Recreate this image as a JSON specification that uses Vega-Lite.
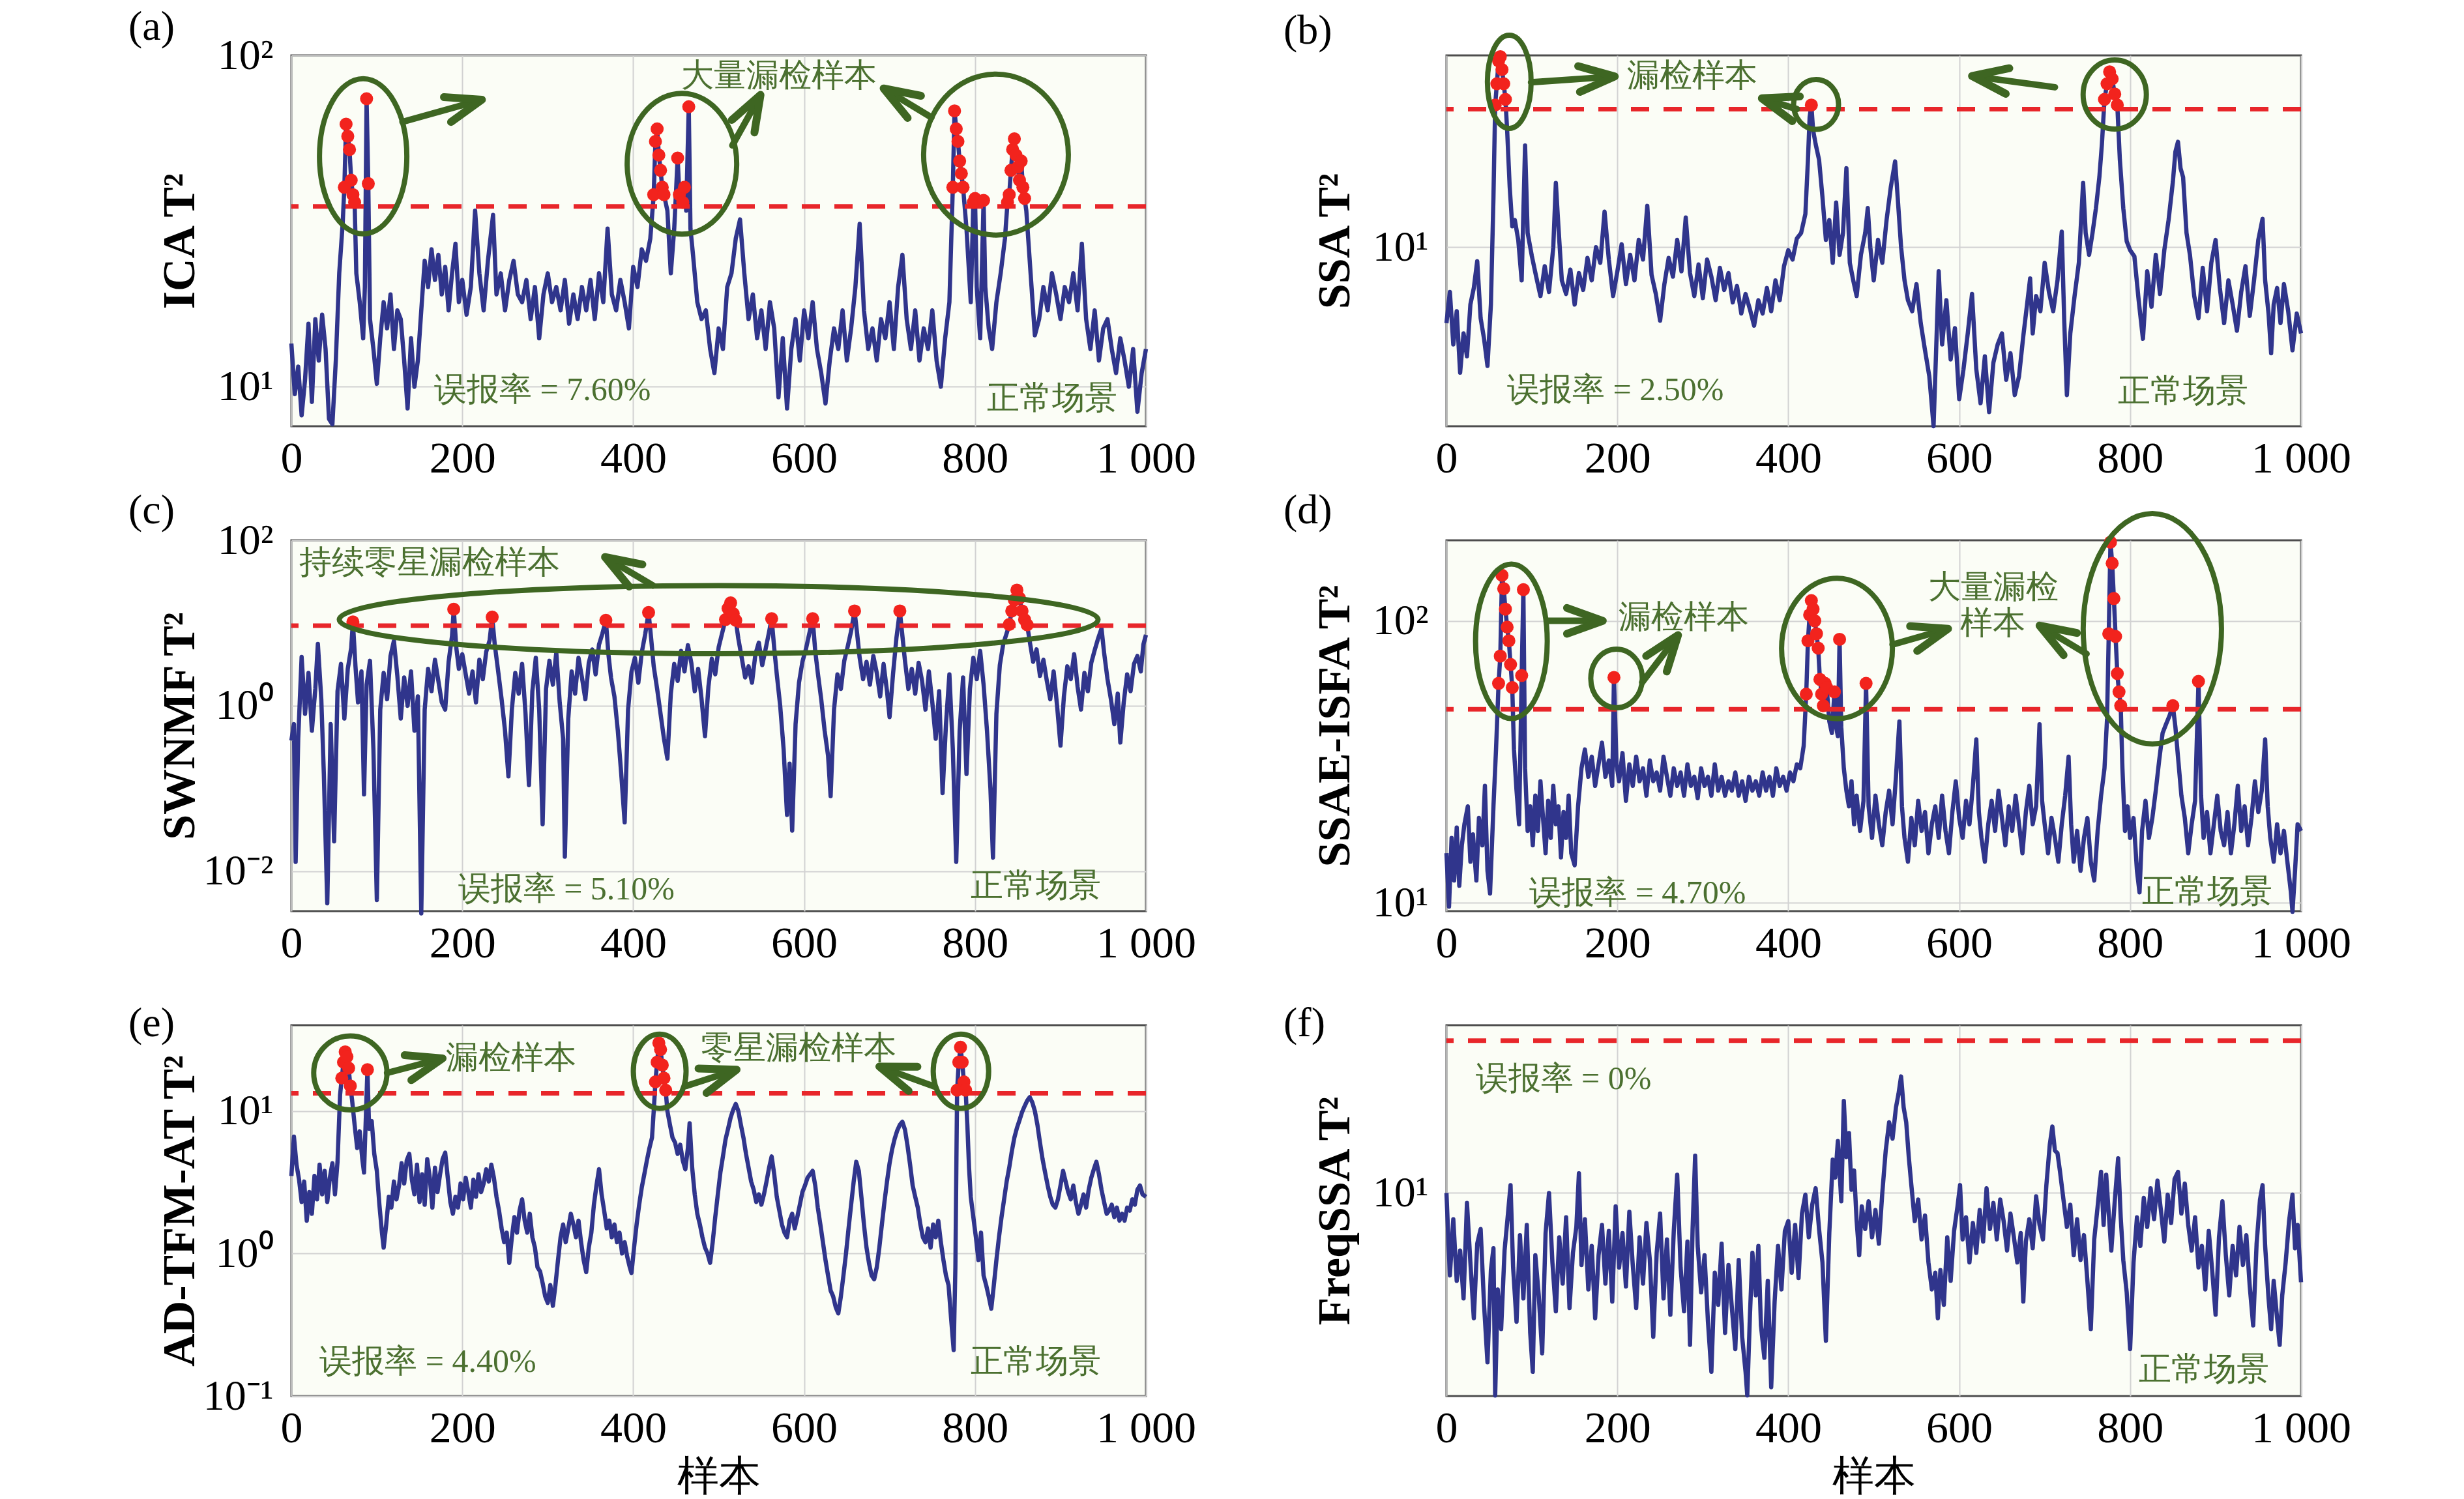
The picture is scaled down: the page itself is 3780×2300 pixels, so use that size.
{
"$schema":"https://vega.github.io/schema/vega-lite/v6.json",
"background":"white",
"padding":{"left":195,"top":8,"right":10,"bottom":0},
"autosize":{"type":"pad"},
"config":{
 "font":"Liberation Serif",
 "view":{"stroke":"#4d4d4d","strokeWidth":3,"fill":"#fbfdf6"},
 "axis":{"domain":false,"ticks":false,"labelFlush":false,"labelOverlap":false,"labelFont":"Liberation Serif","labelFontSize":68,"labelColor":"#000","titleFont":"Liberation Serif","titleFontSize":70,"titleFontWeight":"bold","titleColor":"#000","grid":true,"gridColor":"#d2d2d2","gridWidth":2,"gridOpacity":1},
 "axisX":{"labelPadding":16,"titlePadding":8,"titleFontWeight":"normal","titleFontSize":64},
 "axisY":{"labelPadding":28,"labelFontSize":66,"titlePadding":30,"minExtent":105,"maxExtent":105},
 "title":{"anchor":"start","frame":"group","dx":-250,"offset":7,"fontSize":64,"fontWeight":"normal","font":"Liberation Serif","color":"#000"}
},
"datasets":{
"a":[{"x":0,"y":13.5},{"x":4,"y":9.5},{"x":8,"y":11.5},{"x":12,"y":8.2},{"x":16,"y":10.5},{"x":20,"y":15.5},{"x":24,"y":9},{"x":28,"y":16},{"x":32,"y":12},{"x":36,"y":16.5},{"x":40,"y":13},{"x":44,"y":8},{"x":48,"y":7.7},{"x":52,"y":12},{"x":56,"y":22},{"x":60,"y":31},{"x":62,"y":40},{"x":64,"y":62},{"x":66,"y":57},{"x":68,"y":52},{"x":70,"y":42},{"x":72,"y":38},{"x":74,"y":36},{"x":76,"y":22},{"x":80,"y":18},{"x":84,"y":14},{"x":86,"y":20},{"x":88,"y":74},{"x":90,"y":41},{"x":92,"y":16},{"x":96,"y":13},{"x":100,"y":10.2},{"x":104,"y":14},{"x":108,"y":18},{"x":112,"y":15},{"x":116,"y":19},{"x":120,"y":13},{"x":124,"y":17},{"x":128,"y":16},{"x":132,"y":12},{"x":136,"y":8.6},{"x":140,"y":14},{"x":144,"y":10},{"x":148,"y":12},{"x":152,"y":17},{"x":156,"y":24},{"x":160,"y":20},{"x":164,"y":26},{"x":168,"y":21},{"x":172,"y":25},{"x":176,"y":19},{"x":180,"y":23},{"x":184,"y":17},{"x":188,"y":22},{"x":192,"y":27},{"x":196,"y":18},{"x":200,"y":21},{"x":205,"y":16.5},{"x":210,"y":20},{"x":215,"y":34},{"x":220,"y":22},{"x":225,"y":17},{"x":230,"y":24},{"x":236,"y":33},{"x":240,"y":19},{"x":245,"y":22},{"x":250,"y":17},{"x":255,"y":21},{"x":260,"y":24},{"x":265,"y":19},{"x":270,"y":18},{"x":275,"y":21},{"x":280,"y":16},{"x":285,"y":20},{"x":290,"y":14},{"x":295,"y":19},{"x":300,"y":22},{"x":305,"y":18},{"x":310,"y":20},{"x":315,"y":17},{"x":320,"y":21},{"x":325,"y":15.5},{"x":330,"y":19},{"x":335,"y":16},{"x":340,"y":20},{"x":345,"y":17},{"x":350,"y":21},{"x":355,"y":16},{"x":360,"y":22},{"x":365,"y":18},{"x":370,"y":30},{"x":375,"y":19},{"x":380,"y":17},{"x":385,"y":21},{"x":390,"y":18},{"x":395,"y":15},{"x":400,"y":23},{"x":405,"y":20},{"x":410,"y":26},{"x":415,"y":24},{"x":420,"y":28},{"x":424,"y":38},{"x":426,"y":55},{"x":428,"y":60},{"x":430,"y":50},{"x":432,"y":45},{"x":434,"y":40},{"x":436,"y":38},{"x":440,"y":34},{"x":444,"y":22},{"x":448,"y":30},{"x":452,"y":49},{"x":454,"y":38},{"x":456,"y":35},{"x":458,"y":36},{"x":460,"y":40},{"x":462,"y":34},{"x":465,"y":70},{"x":467,"y":30},{"x":470,"y":25},{"x":475,"y":18},{"x":480,"y":16},{"x":485,"y":17},{"x":490,"y":13},{"x":495,"y":11},{"x":500,"y":15},{"x":505,"y":13},{"x":510,"y":20},{"x":515,"y":22},{"x":520,"y":28},{"x":525,"y":32},{"x":530,"y":22},{"x":535,"y":16},{"x":540,"y":19},{"x":545,"y":14},{"x":550,"y":17},{"x":555,"y":13},{"x":560,"y":18},{"x":565,"y":15},{"x":570,"y":9.3},{"x":575,"y":14},{"x":580,"y":8.6},{"x":585,"y":13},{"x":590,"y":16},{"x":595,"y":12},{"x":600,"y":17},{"x":605,"y":14},{"x":610,"y":18},{"x":615,"y":13},{"x":620,"y":11},{"x":625,"y":8.9},{"x":630,"y":12},{"x":635,"y":15},{"x":640,"y":13},{"x":645,"y":17},{"x":650,"y":12},{"x":655,"y":15},{"x":660,"y":20},{"x":665,"y":31},{"x":670,"y":17},{"x":675,"y":13},{"x":680,"y":15},{"x":685,"y":12},{"x":690,"y":16},{"x":695,"y":14},{"x":700,"y":18},{"x":705,"y":13},{"x":710,"y":20},{"x":715,"y":25},{"x":720,"y":16},{"x":725,"y":13},{"x":730,"y":17},{"x":735,"y":12},{"x":740,"y":15},{"x":745,"y":13},{"x":750,"y":17},{"x":755,"y":12},{"x":760,"y":10},{"x":765,"y":14},{"x":770,"y":18},{"x":774,"y":40},{"x":776,"y":68},{"x":778,"y":60},{"x":780,"y":55},{"x":782,"y":48},{"x":784,"y":44},{"x":786,"y":40},{"x":790,"y":30},{"x":795,"y":18},{"x":798,"y":36},{"x":800,"y":37},{"x":802,"y":20},{"x":806,"y":14},{"x":810,"y":36.5},{"x":812,"y":20},{"x":816,"y":15},{"x":820,"y":13},{"x":825,"y":18},{"x":830,"y":22},{"x":835,"y":28},{"x":838,"y":36},{"x":840,"y":38},{"x":842,"y":45},{"x":844,"y":52},{"x":846,"y":56},{"x":848,"y":50},{"x":850,"y":46},{"x":852,"y":42},{"x":854,"y":48},{"x":856,"y":40},{"x":858,"y":37},{"x":860,"y":34},{"x":865,"y":22},{"x":870,"y":14.3},{"x":875,"y":16},{"x":880,"y":20},{"x":885,"y":17},{"x":890,"y":22},{"x":895,"y":19},{"x":900,"y":16},{"x":905,"y":20},{"x":910,"y":18},{"x":915,"y":22},{"x":920,"y":17},{"x":925,"y":27},{"x":930,"y":16},{"x":935,"y":13},{"x":940,"y":17},{"x":945,"y":12},{"x":950,"y":15},{"x":955,"y":16},{"x":960,"y":13},{"x":965,"y":11},{"x":970,"y":14},{"x":975,"y":12},{"x":980,"y":10},{"x":985,"y":13},{"x":990,"y":8.4},{"x":995,"y":11},{"x":1000,"y":13}],
"b":[{"x":0,"y":6.0},{"x":4,"y":7.4},{"x":8,"y":5.2},{"x":12,"y":6.5},{"x":16,"y":4.3},{"x":20,"y":5.6},{"x":24,"y":4.8},{"x":28,"y":6.8},{"x":32,"y":7.6},{"x":36,"y":9.1},{"x":40,"y":6.2},{"x":44,"y":5.4},{"x":48,"y":4.5},{"x":52,"y":6.8},{"x":55,"y":14},{"x":57,"y":26},{"x":59,"y":30},{"x":61,"y":35},{"x":63,"y":36},{"x":65,"y":33},{"x":67,"y":30},{"x":69,"y":27},{"x":71,"y":22},{"x":74,"y":15},{"x":77,"y":11.5},{"x":80,"y":12},{"x":84,"y":10.5},{"x":88,"y":8},{"x":92,"y":19.8},{"x":95,"y":11},{"x":100,"y":9.4},{"x":105,"y":8.2},{"x":110,"y":7.2},{"x":115,"y":8.8},{"x":120,"y":7.4},{"x":125,"y":10},{"x":128,"y":15.4},{"x":131,"y":11.5},{"x":135,"y":8},{"x":140,"y":7.3},{"x":145,"y":8.6},{"x":150,"y":6.8},{"x":155,"y":8.4},{"x":160,"y":7.5},{"x":165,"y":9.3},{"x":170,"y":8},{"x":175,"y":10},{"x":180,"y":9},{"x":185,"y":12.7},{"x":190,"y":9.2},{"x":195,"y":7.2},{"x":200,"y":8.5},{"x":205,"y":10.2},{"x":210,"y":7.8},{"x":215,"y":9.5},{"x":220,"y":8},{"x":225,"y":10.5},{"x":230,"y":9.2},{"x":235,"y":13.2},{"x":240,"y":8.3},{"x":245,"y":7.3},{"x":250,"y":6.1},{"x":255,"y":7.8},{"x":260,"y":9.3},{"x":265,"y":8.2},{"x":270,"y":10.5},{"x":275,"y":8.5},{"x":280,"y":12.2},{"x":285,"y":8.4},{"x":290,"y":7.2},{"x":295,"y":8.9},{"x":300,"y":7.1},{"x":305,"y":9.2},{"x":310,"y":8.2},{"x":315,"y":7},{"x":320,"y":8.7},{"x":325,"y":7.5},{"x":330,"y":8.4},{"x":335,"y":6.9},{"x":340,"y":7.7},{"x":345,"y":6.4},{"x":350,"y":7.3},{"x":355,"y":6.6},{"x":360,"y":5.9},{"x":365,"y":7},{"x":370,"y":6.4},{"x":375,"y":7.6},{"x":380,"y":6.5},{"x":385,"y":8},{"x":390,"y":7},{"x":395,"y":8.8},{"x":400,"y":9.8},{"x":405,"y":9.2},{"x":410,"y":10.6},{"x":415,"y":11},{"x":420,"y":12.5},{"x":423,"y":18},{"x":425,"y":24},{"x":427,"y":26},{"x":429,"y":22},{"x":432,"y":20},{"x":436,"y":18},{"x":440,"y":14},{"x":444,"y":10.5},{"x":448,"y":12},{"x":452,"y":9},{"x":456,"y":13.5},{"x":460,"y":9.5},{"x":464,"y":11},{"x":468,"y":17},{"x":472,"y":9},{"x":476,"y":8},{"x":480,"y":7.2},{"x":485,"y":9.5},{"x":490,"y":11},{"x":493,"y":13},{"x":496,"y":10},{"x":500,"y":8},{"x":505,"y":10.5},{"x":510,"y":9},{"x":515,"y":12},{"x":520,"y":15},{"x":525,"y":17.8},{"x":528,"y":14},{"x":532,"y":10},{"x":536,"y":8},{"x":540,"y":7},{"x":545,"y":6.5},{"x":550,"y":7.8},{"x":555,"y":6},{"x":560,"y":5},{"x":565,"y":4.2},{"x":570,"y":3.0},{"x":573,"y":5},{"x":576,"y":8.5},{"x":580,"y":5.2},{"x":585,"y":7},{"x":590,"y":4.7},{"x":595,"y":5.8},{"x":600,"y":3.6},{"x":605,"y":4.4},{"x":610,"y":5.6},{"x":615,"y":7.3},{"x":620,"y":4.4},{"x":625,"y":3.5},{"x":630,"y":4.8},{"x":635,"y":3.3},{"x":640,"y":4.6},{"x":645,"y":5.2},{"x":650,"y":5.6},{"x":655,"y":4.1},{"x":660,"y":4.9},{"x":665,"y":3.7},{"x":670,"y":4.2},{"x":675,"y":5.5},{"x":680,"y":7},{"x":683,"y":8.1},{"x":686,"y":5.6},{"x":690,"y":7.2},{"x":695,"y":6.5},{"x":700,"y":9},{"x":705,"y":7.4},{"x":710,"y":6.5},{"x":715,"y":8},{"x":720,"y":11.1},{"x":723,"y":6},{"x":726,"y":3.7},{"x":730,"y":5.6},{"x":735,"y":7.2},{"x":740,"y":9},{"x":745,"y":15.4},{"x":748,"y":11},{"x":752,"y":9.5},{"x":756,"y":11},{"x":760,"y":13},{"x":764,"y":16},{"x":767,"y":20},{"x":770,"y":27},{"x":773,"y":30},{"x":776,"y":32.5},{"x":779,"y":31},{"x":782,"y":28},{"x":785,"y":26},{"x":788,"y":18},{"x":792,"y":13},{"x":796,"y":10.4},{"x":800,"y":9.8},{"x":805,"y":9.4},{"x":810,"y":7},{"x":815,"y":5.4},{"x":820,"y":8.5},{"x":825,"y":6.7},{"x":830,"y":9.5},{"x":835,"y":7.3},{"x":840,"y":9.8},{"x":845,"y":12},{"x":850,"y":15.5},{"x":853,"y":19},{"x":856,"y":20.3},{"x":859,"y":17},{"x":862,"y":16},{"x":866,"y":11},{"x":870,"y":9.5},{"x":875,"y":7.2},{"x":880,"y":6.2},{"x":885,"y":8.7},{"x":890,"y":6.5},{"x":895,"y":9},{"x":900,"y":10.5},{"x":905,"y":7.6},{"x":910,"y":6},{"x":915,"y":8},{"x":920,"y":6.8},{"x":925,"y":5.7},{"x":930,"y":7.4},{"x":935,"y":8.8},{"x":940,"y":6.3},{"x":945,"y":8},{"x":950,"y":10.5},{"x":955,"y":12.1},{"x":958,"y":8},{"x":962,"y":6.4},{"x":965,"y":4.9},{"x":968,"y":6.8},{"x":972,"y":7.6},{"x":976,"y":6},{"x":980,"y":7.8},{"x":985,"y":6.5},{"x":990,"y":5},{"x":995,"y":6.4},{"x":1000,"y":5.6}],
"c":[{"x":0,"y":0.38},{"x":3,"y":0.6},{"x":5,"y":0.013},{"x":8,"y":0.4},{"x":12,"y":3.9},{"x":16,"y":0.8},{"x":20,"y":2.5},{"x":24,"y":0.5},{"x":28,"y":1.6},{"x":31,"y":5.6},{"x":35,"y":1.2},{"x":38,"y":0.15},{"x":42,"y":0.0041},{"x":46,"y":0.6},{"x":50,"y":0.023},{"x":54,"y":1.5},{"x":58,"y":3.2},{"x":62,"y":0.7},{"x":66,"y":2.8},{"x":70,"y":5},{"x":72,"y":10.3},{"x":75,"y":3},{"x":78,"y":1.1},{"x":82,"y":2.6},{"x":85,"y":0.085},{"x":88,"y":1.8},{"x":92,"y":3.5},{"x":96,"y":0.3},{"x":100,"y":0.0045},{"x":104,"y":0.9},{"x":108,"y":2.5},{"x":112,"y":1.2},{"x":116,"y":4},{"x":120,"y":6.1},{"x":124,"y":2.3},{"x":128,"y":0.7},{"x":132,"y":2.2},{"x":136,"y":1},{"x":140,"y":2.6},{"x":144,"y":0.5},{"x":148,"y":1.3},{"x":152,"y":0.0031},{"x":156,"y":0.9},{"x":160,"y":2.8},{"x":164,"y":1.5},{"x":168,"y":3.6},{"x":172,"y":2},{"x":176,"y":1.1},{"x":180,"y":0.9},{"x":184,"y":3.4},{"x":188,"y":7},{"x":190,"y":14.7},{"x":193,"y":5},{"x":196,"y":2.8},{"x":200,"y":4.2},{"x":204,"y":2.4},{"x":208,"y":1.4},{"x":212,"y":2.6},{"x":216,"y":1.1},{"x":220,"y":3.6},{"x":224,"y":2.1},{"x":228,"y":4.5},{"x":232,"y":6.2},{"x":235,"y":11.8},{"x":238,"y":5.5},{"x":242,"y":2.6},{"x":246,"y":1.2},{"x":250,"y":0.5},{"x":254,"y":0.14},{"x":258,"y":0.9},{"x":262,"y":2.5},{"x":266,"y":1.4},{"x":270,"y":3.2},{"x":274,"y":0.8},{"x":278,"y":0.11},{"x":282,"y":1.5},{"x":286,"y":3.8},{"x":290,"y":0.9},{"x":294,"y":0.037},{"x":298,"y":1.6},{"x":302,"y":3.5},{"x":306,"y":1.8},{"x":310,"y":4.4},{"x":314,"y":1.1},{"x":318,"y":0.4},{"x":320,"y":0.015},{"x":324,"y":0.7},{"x":328,"y":2.6},{"x":332,"y":1.4},{"x":336,"y":3.8},{"x":340,"y":2.2},{"x":344,"y":1.2},{"x":348,"y":3.3},{"x":352,"y":4.8},{"x":356,"y":2.4},{"x":360,"y":5.5},{"x":364,"y":7.5},{"x":368,"y":10.8},{"x":371,"y":4.2},{"x":374,"y":2.2},{"x":378,"y":1.3},{"x":382,"y":0.5},{"x":386,"y":0.15},{"x":390,"y":0.039},{"x":394,"y":0.9},{"x":398,"y":2.6},{"x":402,"y":3.8},{"x":406,"y":1.9},{"x":410,"y":4.4},{"x":414,"y":7.3},{"x":418,"y":13.4},{"x":421,"y":6.5},{"x":424,"y":3},{"x":428,"y":1.6},{"x":432,"y":0.8},{"x":436,"y":0.4},{"x":440,"y":0.23},{"x":444,"y":1.4},{"x":448,"y":3.2},{"x":452,"y":2},{"x":456,"y":4.6},{"x":460,"y":2.6},{"x":464,"y":5.4},{"x":468,"y":3.3},{"x":472,"y":1.5},{"x":476,"y":2.8},{"x":480,"y":1.2},{"x":484,"y":0.43},{"x":488,"y":1.7},{"x":492,"y":3.7},{"x":496,"y":2.4},{"x":500,"y":5.1},{"x":504,"y":7.5},{"x":508,"y":11},{"x":511,"y":15},{"x":514,"y":17.5},{"x":517,"y":13},{"x":520,"y":10.8},{"x":523,"y":6.5},{"x":527,"y":3.8},{"x":531,"y":2.2},{"x":535,"y":3},{"x":539,"y":1.9},{"x":543,"y":4.2},{"x":547,"y":5.8},{"x":551,"y":3.1},{"x":555,"y":4.9},{"x":559,"y":7.8},{"x":562,"y":11.3},{"x":565,"y":5},{"x":568,"y":2.4},{"x":572,"y":1},{"x":576,"y":0.3},{"x":580,"y":0.048},{"x":583,"y":0.2},{"x":586,"y":0.031},{"x":590,"y":0.6},{"x":594,"y":1.9},{"x":598,"y":3.4},{"x":602,"y":4.8},{"x":606,"y":7.4},{"x":610,"y":11.3},{"x":613,"y":4.6},{"x":616,"y":2.5},{"x":620,"y":1.2},{"x":624,"y":0.5},{"x":628,"y":0.25},{"x":631,"y":0.081},{"x":635,"y":0.9},{"x":639,"y":2.4},{"x":643,"y":1.6},{"x":647,"y":3.5},{"x":651,"y":5.2},{"x":655,"y":8},{"x":659,"y":14},{"x":662,"y":7.5},{"x":665,"y":3.8},{"x":669,"y":2.1},{"x":673,"y":3.4},{"x":677,"y":1.8},{"x":681,"y":4},{"x":685,"y":2.5},{"x":689,"y":1.3},{"x":693,"y":3.2},{"x":697,"y":1.5},{"x":700,"y":0.73},{"x":704,"y":2.4},{"x":708,"y":6.6},{"x":712,"y":14},{"x":715,"y":7},{"x":718,"y":3.5},{"x":722,"y":1.6},{"x":726,"y":2.8},{"x":730,"y":1.4},{"x":734,"y":3.3},{"x":738,"y":2},{"x":742,"y":0.9},{"x":746,"y":2.6},{"x":750,"y":1.1},{"x":754,"y":0.4},{"x":758,"y":1.5},{"x":762,"y":0.088},{"x":766,"y":0.6},{"x":770,"y":2.4},{"x":774,"y":0.3},{"x":778,"y":0.013},{"x":782,"y":0.5},{"x":786,"y":2.2},{"x":790,"y":0.15},{"x":794,"y":1.6},{"x":798,"y":3.8},{"x":802,"y":2.1},{"x":806,"y":4.6},{"x":810,"y":1.8},{"x":814,"y":0.5},{"x":818,"y":0.1},{"x":821,"y":0.0146},{"x":825,"y":0.8},{"x":829,"y":3.1},{"x":833,"y":5.6},{"x":837,"y":7.5},{"x":840,"y":9.6},{"x":843,"y":14},{"x":846,"y":19},{"x":849,"y":25},{"x":852,"y":20},{"x":855,"y":14},{"x":858,"y":11},{"x":861,"y":9.5},{"x":864,"y":6},{"x":868,"y":3.4},{"x":872,"y":4.8},{"x":876,"y":2.3},{"x":880,"y":3.6},{"x":884,"y":2},{"x":888,"y":1.2},{"x":892,"y":2.6},{"x":896,"y":1},{"x":900,"y":0.33},{"x":904,"y":1.3},{"x":908,"y":3},{"x":912,"y":2.1},{"x":916,"y":4.2},{"x":920,"y":1.7},{"x":924,"y":0.9},{"x":928,"y":2.5},{"x":932,"y":1.5},{"x":936,"y":3.3},{"x":940,"y":4.7},{"x":944,"y":6.5},{"x":948,"y":8.6},{"x":951,"y":4.4},{"x":955,"y":2.1},{"x":959,"y":1.2},{"x":963,"y":0.6},{"x":967,"y":1.4},{"x":970,"y":0.36},{"x":974,"y":1.1},{"x":978,"y":2.4},{"x":982,"y":1.5},{"x":986,"y":3.2},{"x":990,"y":4},{"x":994,"y":2.6},{"x":997,"y":5.5},{"x":1000,"y":7.2}],
"d":[{"x":0,"y":15},{"x":3,"y":9.7},{"x":6,"y":17},{"x":9,"y":12},{"x":12,"y":18.5},{"x":15,"y":11.5},{"x":18,"y":16},{"x":21,"y":19},{"x":25,"y":22},{"x":28,"y":14},{"x":31,"y":17.5},{"x":35,"y":12},{"x":38,"y":20},{"x":42,"y":16},{"x":45,"y":26},{"x":48,"y":13},{"x":51,"y":10.8},{"x":55,"y":22},{"x":58,"y":35},{"x":61,"y":60},{"x":63,"y":75},{"x":65,"y":145},{"x":67,"y":130},{"x":69,"y":110},{"x":71,"y":95},{"x":73,"y":85},{"x":75,"y":70},{"x":77,"y":58},{"x":79,"y":35},{"x":82,"y":25},{"x":85,"y":19},{"x":88,"y":64},{"x":90,"y":129},{"x":92,"y":30},{"x":95,"y":18},{"x":98,"y":22},{"x":101,"y":16},{"x":104,"y":24},{"x":107,"y":18},{"x":110,"y":27},{"x":113,"y":20},{"x":116,"y":15},{"x":119,"y":23},{"x":122,"y":17},{"x":125,"y":26},{"x":128,"y":19},{"x":131,"y":22},{"x":134,"y":14.5},{"x":137,"y":21},{"x":140,"y":17},{"x":143,"y":24},{"x":146,"y":15},{"x":150,"y":13.6},{"x":154,"y":22},{"x":158,"y":30},{"x":162,"y":35},{"x":166,"y":28},{"x":170,"y":33},{"x":174,"y":26},{"x":178,"y":31},{"x":182,"y":37},{"x":186,"y":28},{"x":190,"y":32},{"x":194,"y":26},{"x":196,"y":63},{"x":199,"y":31},{"x":202,"y":27},{"x":206,"y":34},{"x":210,"y":23},{"x":214,"y":31},{"x":218,"y":26},{"x":222,"y":33},{"x":226,"y":27},{"x":230,"y":30},{"x":234,"y":24},{"x":238,"y":32},{"x":242,"y":27},{"x":246,"y":29},{"x":250,"y":25},{"x":254,"y":33},{"x":258,"y":28},{"x":262,"y":24},{"x":266,"y":30},{"x":270,"y":26},{"x":274,"y":29},{"x":278,"y":24},{"x":282,"y":31},{"x":286,"y":26},{"x":290,"y":28},{"x":294,"y":23.5},{"x":298,"y":30},{"x":302,"y":26},{"x":306,"y":28},{"x":310,"y":24},{"x":314,"y":31},{"x":318,"y":25},{"x":322,"y":28},{"x":326,"y":24},{"x":330,"y":27},{"x":334,"y":25},{"x":338,"y":29},{"x":342,"y":24},{"x":346,"y":27},{"x":350,"y":23},{"x":354,"y":28},{"x":358,"y":25},{"x":362,"y":27},{"x":366,"y":24},{"x":370,"y":29},{"x":374,"y":25},{"x":378,"y":28},{"x":382,"y":24},{"x":386,"y":30},{"x":390,"y":26},{"x":394,"y":28},{"x":398,"y":25},{"x":402,"y":29},{"x":406,"y":27},{"x":410,"y":31},{"x":414,"y":30},{"x":418,"y":36},{"x":421,"y":55},{"x":423,"y":85},{"x":425,"y":105},{"x":427,"y":118},{"x":429,"y":110},{"x":431,"y":100},{"x":433,"y":90},{"x":435,"y":80},{"x":437,"y":62},{"x":439,"y":55},{"x":441,"y":50},{"x":443,"y":60},{"x":445,"y":58},{"x":448,"y":44},{"x":451,"y":40},{"x":454,"y":56},{"x":456,"y":42},{"x":458,"y":39},{"x":460,"y":86},{"x":462,"y":42},{"x":465,"y":30},{"x":468,"y":25},{"x":471,"y":22},{"x":474,"y":27},{"x":477,"y":19},{"x":480,"y":24},{"x":484,"y":18},{"x":488,"y":23},{"x":491,"y":60},{"x":494,"y":22},{"x":498,"y":17},{"x":502,"y":24},{"x":506,"y":19},{"x":510,"y":16},{"x":514,"y":21},{"x":518,"y":25},{"x":522,"y":19},{"x":526,"y":28},{"x":530,"y":44},{"x":533,"y":22},{"x":536,"y":17},{"x":540,"y":14},{"x":544,"y":20},{"x":548,"y":16},{"x":552,"y":23},{"x":556,"y":18},{"x":560,"y":21},{"x":564,"y":15},{"x":568,"y":19},{"x":572,"y":22},{"x":576,"y":17},{"x":580,"y":24},{"x":584,"y":18},{"x":588,"y":15},{"x":592,"y":21},{"x":596,"y":27},{"x":600,"y":20},{"x":604,"y":17},{"x":608,"y":23},{"x":612,"y":19},{"x":616,"y":26},{"x":620,"y":38},{"x":623,"y":21},{"x":626,"y":17},{"x":630,"y":14},{"x":634,"y":19},{"x":638,"y":23},{"x":642,"y":18},{"x":646,"y":25},{"x":650,"y":20},{"x":654,"y":16},{"x":658,"y":22},{"x":662,"y":18},{"x":666,"y":24},{"x":670,"y":19},{"x":674,"y":15},{"x":678,"y":21},{"x":682,"y":26},{"x":686,"y":19},{"x":690,"y":22},{"x":694,"y":43},{"x":697,"y":23},{"x":700,"y":19},{"x":704,"y":15},{"x":708,"y":20},{"x":712,"y":17},{"x":716,"y":14},{"x":720,"y":19},{"x":724,"y":24},{"x":728,"y":33},{"x":731,"y":19},{"x":734,"y":14},{"x":738,"y":18},{"x":742,"y":13},{"x":746,"y":17},{"x":750,"y":20},{"x":754,"y":14},{"x":758,"y":12},{"x":762,"y":18},{"x":766,"y":24},{"x":770,"y":30},{"x":773,"y":45},{"x":775,"y":90},{"x":777,"y":190},{"x":779,"y":160},{"x":781,"y":120},{"x":783,"y":88},{"x":785,"y":65},{"x":787,"y":56},{"x":789,"y":50},{"x":791,"y":30},{"x":794,"y":18},{"x":797,"y":22},{"x":800,"y":17},{"x":804,"y":20},{"x":808,"y":13},{"x":811,"y":10.9},{"x":814,"y":18},{"x":818,"y":23},{"x":822,"y":17},{"x":826,"y":20},{"x":830,"y":25},{"x":834,"y":32},{"x":838,"y":40},{"x":842,"y":43},{"x":846,"y":46},{"x":850,"y":50},{"x":853,"y":42},{"x":856,"y":33},{"x":860,"y":24},{"x":864,"y":20},{"x":868,"y":15},{"x":872,"y":19},{"x":876,"y":23},{"x":880,"y":61},{"x":883,"y":24},{"x":886,"y":17},{"x":890,"y":21},{"x":894,"y":15},{"x":898,"y":19},{"x":902,"y":24},{"x":906,"y":18},{"x":910,"y":16},{"x":914,"y":21},{"x":918,"y":15},{"x":922,"y":19},{"x":926,"y":26},{"x":930,"y":18},{"x":934,"y":22},{"x":938,"y":16},{"x":942,"y":20},{"x":946,"y":27},{"x":950,"y":21},{"x":954,"y":25},{"x":958,"y":38},{"x":961,"y":22},{"x":964,"y":17},{"x":968,"y":14},{"x":972,"y":19},{"x":976,"y":15},{"x":980,"y":18},{"x":984,"y":14},{"x":988,"y":11},{"x":990,"y":9.3},{"x":993,"y":13},{"x":996,"y":19},{"x":1000,"y":18}],
"e":[{"x":0,"y":3.5},{"x":3,"y":6.6},{"x":6,"y":4.2},{"x":9,"y":3.3},{"x":12,"y":2.3},{"x":15,"y":3.2},{"x":18,"y":1.7},{"x":21,"y":2.7},{"x":24,"y":1.9},{"x":27,"y":3.5},{"x":30,"y":2.4},{"x":33,"y":4.2},{"x":36,"y":2.6},{"x":39,"y":3.8},{"x":42,"y":2.3},{"x":45,"y":3.4},{"x":48,"y":4.3},{"x":51,"y":2.6},{"x":54,"y":4.4},{"x":57,"y":13},{"x":59,"y":17},{"x":61,"y":22},{"x":63,"y":26},{"x":65,"y":24},{"x":67,"y":20},{"x":69,"y":15},{"x":71,"y":12},{"x":74,"y":8},{"x":77,"y":5.5},{"x":80,"y":7.2},{"x":83,"y":4.6},{"x":85,"y":3.7},{"x":87,"y":8.5},{"x":89,"y":19.5},{"x":91,"y":7.5},{"x":94,"y":8.5},{"x":97,"y":5},{"x":100,"y":3.8},{"x":103,"y":2.2},{"x":106,"y":1.4},{"x":108,"y":1.1},{"x":111,"y":1.6},{"x":114,"y":2.5},{"x":117,"y":2.1},{"x":120,"y":3.2},{"x":123,"y":2.4},{"x":126,"y":3},{"x":129,"y":4.3},{"x":132,"y":3.1},{"x":135,"y":4.5},{"x":138,"y":5},{"x":141,"y":3.3},{"x":144,"y":2.6},{"x":147,"y":4.2},{"x":150,"y":2.3},{"x":153,"y":3.6},{"x":156,"y":2.2},{"x":159,"y":4.6},{"x":162,"y":3.4},{"x":165,"y":2.1},{"x":168,"y":4},{"x":171,"y":2.7},{"x":174,"y":3.6},{"x":177,"y":4.6},{"x":180,"y":5.1},{"x":183,"y":3.4},{"x":186,"y":2.3},{"x":189,"y":1.9},{"x":192,"y":2.5},{"x":195,"y":2.1},{"x":198,"y":3.1},{"x":201,"y":2.4},{"x":204,"y":3.4},{"x":207,"y":2.7},{"x":210,"y":2.1},{"x":213,"y":3.3},{"x":216,"y":2.5},{"x":219,"y":3.6},{"x":222,"y":2.7},{"x":225,"y":3.1},{"x":228,"y":3.9},{"x":231,"y":3.2},{"x":234,"y":4.2},{"x":237,"y":3.4},{"x":240,"y":2.5},{"x":243,"y":2},{"x":246,"y":1.5},{"x":249,"y":1.2},{"x":252,"y":1.4},{"x":255,"y":0.86},{"x":258,"y":1.3},{"x":261,"y":1.8},{"x":264,"y":1.4},{"x":267,"y":2},{"x":270,"y":2.4},{"x":273,"y":1.7},{"x":276,"y":1.4},{"x":279,"y":1.9},{"x":282,"y":1.3},{"x":285,"y":1.1},{"x":288,"y":0.8},{"x":291,"y":0.75},{"x":294,"y":0.62},{"x":297,"y":0.5},{"x":300,"y":0.45},{"x":303,"y":0.6},{"x":306,"y":0.43},{"x":309,"y":0.6},{"x":312,"y":0.9},{"x":315,"y":1.3},{"x":318,"y":1.6},{"x":321,"y":1.2},{"x":324,"y":1.5},{"x":327,"y":1.9},{"x":330,"y":1.6},{"x":333,"y":1.3},{"x":336,"y":1.7},{"x":339,"y":1.2},{"x":342,"y":0.9},{"x":345,"y":0.74},{"x":348,"y":1.1},{"x":351,"y":1.4},{"x":354,"y":2.2},{"x":357,"y":3},{"x":360,"y":3.9},{"x":363,"y":2.6},{"x":366,"y":2},{"x":369,"y":1.5},{"x":372,"y":1.7},{"x":375,"y":1.3},{"x":378,"y":1.6},{"x":381,"y":1.2},{"x":384,"y":1.4},{"x":387,"y":1},{"x":390,"y":1.2},{"x":393,"y":0.95},{"x":396,"y":0.8},{"x":398,"y":0.73},{"x":401,"y":1.1},{"x":404,"y":1.6},{"x":407,"y":2.2},{"x":410,"y":2.9},{"x":413,"y":3.6},{"x":416,"y":4.5},{"x":419,"y":5.5},{"x":422,"y":6.5},{"x":424,"y":10},{"x":426,"y":16},{"x":428,"y":22},{"x":430,"y":30},{"x":432,"y":27},{"x":434,"y":21},{"x":436,"y":17},{"x":438,"y":14},{"x":440,"y":10},{"x":443,"y":8},{"x":446,"y":6.5},{"x":449,"y":6},{"x":452,"y":5},{"x":455,"y":5.8},{"x":458,"y":4.5},{"x":461,"y":3.9},{"x":464,"y":5.5},{"x":466,"y":8.2},{"x":469,"y":4},{"x":472,"y":2.6},{"x":475,"y":1.9},{"x":478,"y":1.6},{"x":481,"y":1.3},{"x":484,"y":1.1},{"x":487,"y":1},{"x":490,"y":0.86},{"x":493,"y":1.2},{"x":496,"y":1.8},{"x":499,"y":2.6},{"x":502,"y":3.7},{"x":505,"y":4.8},{"x":508,"y":6.3},{"x":511,"y":7.5},{"x":514,"y":9},{"x":517,"y":10.2},{"x":520,"y":11.2},{"x":523,"y":10},{"x":526,"y":8},{"x":529,"y":6.5},{"x":532,"y":5},{"x":535,"y":4},{"x":538,"y":3.2},{"x":541,"y":2.8},{"x":544,"y":2.3},{"x":547,"y":2.6},{"x":550,"y":2.2},{"x":553,"y":2.6},{"x":556,"y":3.2},{"x":559,"y":4},{"x":562,"y":4.8},{"x":565,"y":3.6},{"x":568,"y":2.5},{"x":571,"y":2},{"x":574,"y":1.6},{"x":577,"y":1.4},{"x":580,"y":1.3},{"x":583,"y":1.7},{"x":586,"y":1.9},{"x":589,"y":1.5},{"x":592,"y":1.8},{"x":595,"y":2.2},{"x":598,"y":2.7},{"x":601,"y":3},{"x":604,"y":3.4},{"x":607,"y":3.6},{"x":610,"y":3.8},{"x":613,"y":3},{"x":616,"y":2.1},{"x":619,"y":1.6},{"x":622,"y":1.2},{"x":625,"y":0.9},{"x":628,"y":0.7},{"x":631,"y":0.55},{"x":634,"y":0.5},{"x":637,"y":0.42},{"x":640,"y":0.38},{"x":643,"y":0.5},{"x":646,"y":0.7},{"x":649,"y":1},{"x":652,"y":1.5},{"x":655,"y":2.2},{"x":658,"y":3.2},{"x":661,"y":4.4},{"x":664,"y":3.8},{"x":667,"y":2.5},{"x":670,"y":1.6},{"x":673,"y":1.1},{"x":676,"y":0.85},{"x":679,"y":0.7},{"x":682,"y":0.66},{"x":685,"y":0.8},{"x":688,"y":1.1},{"x":691,"y":1.6},{"x":694,"y":2.3},{"x":697,"y":3.2},{"x":700,"y":4.3},{"x":703,"y":5.4},{"x":706,"y":6.4},{"x":709,"y":7.3},{"x":712,"y":8},{"x":715,"y":8.4},{"x":718,"y":7.4},{"x":721,"y":5.7},{"x":724,"y":4.2},{"x":727,"y":3},{"x":730,"y":2.5},{"x":733,"y":2.1},{"x":736,"y":1.6},{"x":739,"y":1.3},{"x":742,"y":1.2},{"x":745,"y":1.5},{"x":748,"y":1.1},{"x":751,"y":1.6},{"x":754,"y":1.3},{"x":757,"y":1.7},{"x":760,"y":1.2},{"x":763,"y":0.9},{"x":766,"y":0.7},{"x":769,"y":0.6},{"x":772,"y":0.35},{"x":775,"y":0.21},{"x":777,"y":0.8},{"x":779,"y":14},{"x":781,"y":22},{"x":783,"y":28},{"x":785,"y":22},{"x":787,"y":16},{"x":789,"y":14},{"x":791,"y":8},{"x":793,"y":4},{"x":795,"y":2.5},{"x":798,"y":1.8},{"x":801,"y":1.3},{"x":804,"y":0.9},{"x":807,"y":1.4},{"x":810,"y":0.7},{"x":813,"y":0.6},{"x":816,"y":0.5},{"x":819,"y":0.41},{"x":822,"y":0.6},{"x":825,"y":0.9},{"x":828,"y":1.3},{"x":831,"y":1.8},{"x":834,"y":2.4},{"x":837,"y":3.2},{"x":840,"y":4},{"x":843,"y":5.2},{"x":846,"y":6.5},{"x":849,"y":7.6},{"x":852,"y":8.6},{"x":855,"y":9.8},{"x":858,"y":10.8},{"x":861,"y":11.8},{"x":864,"y":12.5},{"x":867,"y":11.5},{"x":870,"y":10},{"x":873,"y":8},{"x":876,"y":6},{"x":879,"y":4.6},{"x":882,"y":3.7},{"x":885,"y":3},{"x":888,"y":2.5},{"x":891,"y":2.2},{"x":894,"y":2.1},{"x":897,"y":2.4},{"x":900,"y":3},{"x":903,"y":3.8},{"x":906,"y":3.2},{"x":909,"y":2.7},{"x":912,"y":2.4},{"x":915,"y":3},{"x":918,"y":2.3},{"x":921,"y":1.9},{"x":924,"y":2.2},{"x":927,"y":2.6},{"x":930,"y":2.1},{"x":933,"y":2.8},{"x":936,"y":3.4},{"x":939,"y":3.9},{"x":942,"y":4.4},{"x":945,"y":3.6},{"x":948,"y":2.8},{"x":951,"y":2.3},{"x":954,"y":1.9},{"x":957,"y":2},{"x":960,"y":2.2},{"x":963,"y":1.8},{"x":966,"y":2.1},{"x":969,"y":1.7},{"x":972,"y":1.9},{"x":975,"y":1.7},{"x":978,"y":2.1},{"x":981,"y":2},{"x":984,"y":2.4},{"x":987,"y":2.2},{"x":990,"y":2.8},{"x":993,"y":3},{"x":996,"y":2.6},{"x":1000,"y":2.5}],
"f":[{"x":0,"y":10},{"x":4,"y":6},{"x":8,"y":8.5},{"x":12,"y":5.8},{"x":16,"y":7},{"x":20,"y":5.2},{"x":24,"y":9.4},{"x":28,"y":6.5},{"x":32,"y":4.6},{"x":36,"y":7.3},{"x":40,"y":8},{"x":44,"y":5},{"x":48,"y":3.5},{"x":52,"y":6.2},{"x":55,"y":7.1},{"x":57,"y":2.85},{"x":60,"y":5.5},{"x":64,"y":4.3},{"x":68,"y":7},{"x":72,"y":8.8},{"x":75,"y":10.5},{"x":78,"y":6.3},{"x":82,"y":4.5},{"x":86,"y":7.7},{"x":90,"y":5.2},{"x":94,"y":8.2},{"x":98,"y":4.2},{"x":101,"y":3.3},{"x":104,"y":6.8},{"x":108,"y":5.3},{"x":112,"y":3.7},{"x":116,"y":7.8},{"x":120,"y":10},{"x":124,"y":6.5},{"x":128,"y":4.8},{"x":132,"y":7.6},{"x":136,"y":5.7},{"x":140,"y":8.6},{"x":144,"y":4.9},{"x":148,"y":6.9},{"x":152,"y":8.1},{"x":155,"y":11.3},{"x":158,"y":6.4},{"x":162,"y":8.5},{"x":166,"y":5.5},{"x":170,"y":7.2},{"x":174,"y":4.6},{"x":178,"y":6.8},{"x":182,"y":8.2},{"x":186,"y":5.7},{"x":190,"y":7.9},{"x":194,"y":5.1},{"x":198,"y":9.2},{"x":202,"y":6.3},{"x":206,"y":7.8},{"x":210,"y":5.6},{"x":214,"y":8.9},{"x":218,"y":6.4},{"x":222,"y":4.9},{"x":226,"y":7.6},{"x":230,"y":5.7},{"x":234,"y":8.3},{"x":238,"y":6.6},{"x":242,"y":4.1},{"x":246,"y":6.9},{"x":250,"y":8.8},{"x":254,"y":5.2},{"x":258,"y":7.5},{"x":262,"y":4.7},{"x":266,"y":7.9},{"x":270,"y":11.2},{"x":274,"y":6.3},{"x":278,"y":4.8},{"x":282,"y":7.4},{"x":285,"y":3.9},{"x":288,"y":8},{"x":291,"y":12.6},{"x":294,"y":7.2},{"x":298,"y":5.4},{"x":302,"y":6.8},{"x":306,"y":4.5},{"x":310,"y":3.3},{"x":314,"y":6.1},{"x":318,"y":5},{"x":322,"y":7.3},{"x":326,"y":4.2},{"x":330,"y":6.4},{"x":334,"y":4.9},{"x":338,"y":3.8},{"x":342,"y":6.6},{"x":346,"y":4.1},{"x":350,"y":3.3},{"x":352,"y":2.85},{"x":355,"y":4.6},{"x":358,"y":6.9},{"x":362,"y":5.3},{"x":365,"y":7.2},{"x":368,"y":4.4},{"x":372,"y":3.6},{"x":376,"y":5.8},{"x":380,"y":3},{"x":384,"y":5.1},{"x":388,"y":7.2},{"x":392,"y":5.5},{"x":396,"y":7.9},{"x":400,"y":8.4},{"x":404,"y":6.1},{"x":408,"y":8.2},{"x":412,"y":5.9},{"x":416,"y":8.8},{"x":420,"y":9.9},{"x":424,"y":7.6},{"x":428,"y":9.3},{"x":432,"y":10.3},{"x":436,"y":8},{"x":440,"y":6.5},{"x":444,"y":4},{"x":448,"y":7.8},{"x":452,"y":12.3},{"x":455,"y":11},{"x":458,"y":13.8},{"x":462,"y":9.5},{"x":465,"y":17.7},{"x":468,"y":12.5},{"x":471,"y":14.5},{"x":474,"y":10.2},{"x":477,"y":11.5},{"x":480,"y":8.4},{"x":483,"y":6.8},{"x":486,"y":9.2},{"x":490,"y":8},{"x":494,"y":9.5},{"x":498,"y":7.6},{"x":502,"y":9},{"x":506,"y":7.3},{"x":510,"y":10},{"x":514,"y":13},{"x":518,"y":15.5},{"x":522,"y":14},{"x":526,"y":17},{"x":529,"y":18.5},{"x":532,"y":20.6},{"x":535,"y":17},{"x":538,"y":15.5},{"x":541,"y":12.5},{"x":544,"y":10.5},{"x":548,"y":8.4},{"x":552,"y":9.6},{"x":556,"y":7.5},{"x":560,"y":8.7},{"x":564,"y":6.5},{"x":568,"y":5.5},{"x":572,"y":6.1},{"x":575,"y":4.6},{"x":578,"y":6.2},{"x":582,"y":5},{"x":586,"y":7.6},{"x":590,"y":5.8},{"x":594,"y":7.9},{"x":598,"y":9.2},{"x":601,"y":10.5},{"x":604,"y":7.5},{"x":608,"y":8.6},{"x":612,"y":6.5},{"x":616,"y":8.3},{"x":620,"y":6.9},{"x":624,"y":9},{"x":628,"y":7.4},{"x":632,"y":10.3},{"x":636,"y":8},{"x":640,"y":9.4},{"x":644,"y":7.5},{"x":648,"y":9.6},{"x":652,"y":8.4},{"x":656,"y":7},{"x":660,"y":8.8},{"x":664,"y":7.6},{"x":668,"y":6.5},{"x":672,"y":7.8},{"x":675,"y":5.1},{"x":678,"y":7.4},{"x":682,"y":8.5},{"x":686,"y":7.1},{"x":690,"y":9.8},{"x":694,"y":8.2},{"x":698,"y":7.5},{"x":702,"y":10.5},{"x":706,"y":13.5},{"x":709,"y":15.1},{"x":712,"y":13},{"x":715,"y":12.8},{"x":718,"y":11.4},{"x":722,"y":9.6},{"x":726,"y":8.1},{"x":730,"y":9.3},{"x":734,"y":6.8},{"x":738,"y":8.5},{"x":742,"y":6.6},{"x":746,"y":7.7},{"x":750,"y":5.8},{"x":754,"y":4.3},{"x":758,"y":7.5},{"x":762,"y":9.2},{"x":766,"y":11.4},{"x":769,"y":8.2},{"x":772,"y":11.2},{"x":775,"y":8.8},{"x":778,"y":7},{"x":782,"y":9.5},{"x":786,"y":12.4},{"x":789,"y":8.6},{"x":792,"y":6.6},{"x":796,"y":5.4},{"x":800,"y":3.8},{"x":804,"y":6.5},{"x":808,"y":8.6},{"x":812,"y":7.2},{"x":816,"y":9.7},{"x":820,"y":8.1},{"x":824,"y":10.3},{"x":828,"y":8.5},{"x":832,"y":10.8},{"x":836,"y":9},{"x":840,"y":7.4},{"x":844,"y":9.9},{"x":848,"y":8.3},{"x":852,"y":10.9},{"x":856,"y":11.4},{"x":860,"y":8.8},{"x":864,"y":10.6},{"x":868,"y":8.2},{"x":872,"y":7},{"x":876,"y":8.6},{"x":880,"y":6.3},{"x":884,"y":7.2},{"x":888,"y":5.5},{"x":892,"y":7.9},{"x":896,"y":6.2},{"x":900,"y":4.7},{"x":904,"y":7.6},{"x":908,"y":9.5},{"x":912,"y":6.8},{"x":916,"y":5.3},{"x":920,"y":7.2},{"x":924,"y":6},{"x":928,"y":8.1},{"x":932,"y":6.4},{"x":936,"y":7.7},{"x":940,"y":5.6},{"x":944,"y":4.4},{"x":948,"y":7.3},{"x":952,"y":9.6},{"x":955,"y":10.5},{"x":958,"y":7.2},{"x":962,"y":5.2},{"x":965,"y":4.3},{"x":968,"y":5.8},{"x":972,"y":4.6},{"x":975,"y":3.9},{"x":978,"y":5.3},{"x":982,"y":6.5},{"x":986,"y":8.4},{"x":990,"y":9.9},{"x":993,"y":7.1},{"x":996,"y":8.2},{"x":1000,"y":5.75}]
},
"columns":2,
"spacing":{"row":175,"column":461},
"bounds":"flush",
"concat":[
{"width":1311,"height":569,"title":{"text":"(a)","dy":29},"data":{"values":[{}]},
 "resolve":{"axis":{"x":"independent","y":"independent"}},
 "layer":[
  {"data":{"name":"a"},"mark":{"type":"line","color":"#30358c","strokeWidth":6.5,"strokeJoin":"round"},
   "encoding":{"x":{"field":"x","type":"quantitative","scale":{"domain":[0,1000],"nice":false,"zero":false},"axis":{"values":[0,200,400,600,800,1000],"labelExpr":"datum.value==1000?'1 000':datum.label","title":null}},
    "y":{"field":"y","type":"quantitative","scale":{"type":"log","domain":[7.6,100],"nice":false},"axis":{"values":[10,100],"labelExpr":"datum.value>=99?'10²':datum.value>=9.9?'10¹':datum.value>=0.99?'10⁰':datum.value>=0.099?'10⁻¹':'10⁻²'","title":"ICA  T²"}}}},
  {"mark":{"type":"rule","color":"#e8262a","strokeWidth":7,"strokeDash":[28,22]},"encoding":{"y":{"datum":35,"axis":null}}},
  {"data":{"name":"a"},"transform":[{"filter":"datum.y>35"}],"mark":{"type":"circle","size":400,"color":"#f2231d","opacity":1},
   "encoding":{"x":{"field":"x","type":"quantitative","axis":{"orient":"top","values":[50,100,150,250,300,350,450,500,550,650,700,750,850,900,950],"labels":false,"gridDash":[2,6],"gridColor":"#bdbdbd","title":null}},
    "y":{"field":"y","type":"quantitative","axis":{"orient":"right","values":[8,9,20,30,40,50,60,70,80,90],"labels":false,"gridDash":[2,6],"gridColor":"#bdbdbd","title":null}}}},
  {"mark":{"type":"point","shape":"M -0.563 0 A 0.563 1 0 1 0 0.563 0 A 0.563 1 0 1 0 -0.563 0 Z","size":56644,"filled":false,"stroke":"#3e6622","strokeWidth":8,"opacity":1},"encoding":{"x":{"datum":84,"axis":null},"y":{"datum":49.6,"axis":null}}},
  {"mark":{"type":"point","shape":"M -0.778 0 A 0.778 1 0 1 0 0.778 0 A 0.778 1 0 1 0 -0.778 0 Z","size":46656,"filled":false,"stroke":"#3e6622","strokeWidth":8,"opacity":1},"encoding":{"x":{"datum":457,"axis":null},"y":{"datum":47.1,"axis":null}}},
  {"mark":{"type":"point","shape":"M -0.899 0 A 0.899 1 0 1 0 0.899 0 A 0.899 1 0 1 0 -0.899 0 Z","size":61009,"filled":false,"stroke":"#3e6622","strokeWidth":8,"opacity":1},"encoding":{"x":{"datum":824.5,"axis":null},"y":{"datum":50.2,"axis":null}}},
  {"data":{"values":[{"x":130,"y":63,"x2":223,"y2":73.5},{"x":516,"y":53.5,"x2":549,"y2":76},{"x":749,"y":65,"x2":693,"y2":79.5}]},"mark":{"type":"rule","color":"#3e6622","strokeWidth":10,"strokeCap":"round"},
   "encoding":{"x":{"field":"x","type":"quantitative","axis":null},"y":{"field":"y","type":"quantitative","axis":null},"x2":{"field":"x2"},"y2":{"field":"y2"}}},
  {"mark":{"type":"point","shape":"M -0.36 1 L 0 0 L 0.36 1","size":12100,"filled":false,"stroke":"#3e6622","strokeWidth":12,"strokeCap":"round","strokeJoin":"round","angle":74,"opacity":1},"encoding":{"x":{"datum":223,"axis":null},"y":{"datum":73.5,"axis":null}}},
  {"mark":{"type":"point","shape":"M -0.36 1 L 0 0 L 0.36 1","size":12100,"filled":false,"stroke":"#3e6622","strokeWidth":12,"strokeCap":"round","strokeJoin":"round","angle":29,"opacity":1},"encoding":{"x":{"datum":549,"axis":null},"y":{"datum":76,"axis":null}}},
  {"mark":{"type":"point","shape":"M -0.36 1 L 0 0 L 0.36 1","size":12100,"filled":false,"stroke":"#3e6622","strokeWidth":12,"strokeCap":"round","strokeJoin":"round","angle":-59,"opacity":1},"encoding":{"x":{"datum":693,"axis":null},"y":{"datum":79.5,"axis":null}}},
  {"data":{"values":[{"x":456,"y":86.7,"t":"大量漏检样本"},{"x":167,"y":9.75,"t":"误报率 = 7.60%"},{"x":814,"y":9.2,"t":"正常场景"}]},"mark":{"type":"text","font":"Liberation Serif","fontSize":50,"color":"#4b7030","align":"left","baseline":"middle"},
   "encoding":{"x":{"field":"x","type":"quantitative","axis":null},"y":{"field":"y","type":"quantitative","axis":null},"text":{"field":"t"}}}
 ]},
{"width":1311,"height":569,"title":{"text":"(b)","dy":49},"data":{"values":[{}]},
 "resolve":{"axis":{"x":"independent","y":"independent"}},
 "layer":[
  {"data":{"name":"b"},"mark":{"type":"line","color":"#30358c","strokeWidth":6.5,"strokeJoin":"round"},
   "encoding":{"x":{"field":"x","type":"quantitative","scale":{"domain":[0,1000],"nice":false,"zero":false},"axis":{"values":[0,200,400,600,800,1000],"labelExpr":"datum.value==1000?'1 000':datum.label","title":null}},
    "y":{"field":"y","type":"quantitative","scale":{"type":"log","domain":[3.0,36.3],"nice":false},"axis":{"values":[10],"labelExpr":"datum.value>=99?'10²':datum.value>=9.9?'10¹':datum.value>=0.99?'10⁰':datum.value>=0.099?'10⁻¹':'10⁻²'","title":"SSA  T²"}}}},
  {"mark":{"type":"rule","color":"#e8262a","strokeWidth":7,"strokeDash":[28,22]},"encoding":{"y":{"datum":25.3,"axis":null}}},
  {"data":{"name":"b"},"transform":[{"filter":"datum.y>25.3"}],"mark":{"type":"circle","size":400,"color":"#f2231d","opacity":1},
   "encoding":{"x":{"field":"x","type":"quantitative","axis":{"orient":"top","values":[50,100,150,250,300,350,450,500,550,650,700,750,850,900,950],"labels":false,"gridDash":[2,6],"gridColor":"#bdbdbd","title":null}},
    "y":{"field":"y","type":"quantitative","axis":{"orient":"right","values":[4,5,6,7,8,9,20,30],"labels":false,"gridDash":[2,6],"gridColor":"#bdbdbd","title":null}}}},
  {"mark":{"type":"point","shape":"M -0.469 0 A 0.469 1 0 1 0 0.469 0 A 0.469 1 0 1 0 -0.469 0 Z","size":20449,"filled":false,"stroke":"#3e6622","strokeWidth":8,"opacity":1},"encoding":{"x":{"datum":73.5,"axis":null},"y":{"datum":30.4,"axis":null}}},
  {"mark":{"type":"point","shape":"M -0.902 0 A 0.902 1 0 1 0 0.902 0 A 0.902 1 0 1 0 -0.902 0 Z","size":5852,"filled":false,"stroke":"#3e6622","strokeWidth":8,"opacity":1},"encoding":{"x":{"datum":432.5,"axis":null},"y":{"datum":26.1,"axis":null}}},
  {"mark":{"type":"point","shape":"M -0.915 0 A 0.915 1 0 1 0 0.915 0 A 0.915 1 0 1 0 -0.915 0 Z","size":11236,"filled":false,"stroke":"#3e6622","strokeWidth":8,"opacity":1},"encoding":{"x":{"datum":782,"axis":null},"y":{"datum":27.9,"axis":null}}},
  {"data":{"values":[{"x":99,"y":30.3,"x2":197,"y2":31.5},{"x":410,"y":25.3,"x2":369,"y2":27.2},{"x":712,"y":29.3,"x2":615,"y2":31.6}]},"mark":{"type":"rule","color":"#3e6622","strokeWidth":10,"strokeCap":"round"},
   "encoding":{"x":{"field":"x","type":"quantitative","axis":null},"y":{"field":"y","type":"quantitative","axis":null},"x2":{"field":"x2"},"y2":{"field":"y2"}}},
  {"mark":{"type":"point","shape":"M -0.36 1 L 0 0 L 0.36 1","size":12100,"filled":false,"stroke":"#3e6622","strokeWidth":12,"strokeCap":"round","strokeJoin":"round","angle":86,"opacity":1},"encoding":{"x":{"datum":197,"axis":null},"y":{"datum":31.5,"axis":null}}},
  {"mark":{"type":"point","shape":"M -0.36 1 L 0 0 L 0.36 1","size":12100,"filled":false,"stroke":"#3e6622","strokeWidth":12,"strokeCap":"round","strokeJoin":"round","angle":-73,"opacity":1},"encoding":{"x":{"datum":369,"axis":null},"y":{"datum":27.2,"axis":null}}},
  {"mark":{"type":"point","shape":"M -0.36 1 L 0 0 L 0.36 1","size":12100,"filled":false,"stroke":"#3e6622","strokeWidth":12,"strokeCap":"round","strokeJoin":"round","angle":-82,"opacity":1},"encoding":{"x":{"datum":615,"axis":null},"y":{"datum":31.6,"axis":null}}},
  {"data":{"values":[{"x":211,"y":31.6,"t":"漏检样本"},{"x":71,"y":3.82,"t":"误报率 = 2.50%"},{"x":786,"y":3.78,"t":"正常场景"}]},"mark":{"type":"text","font":"Liberation Serif","fontSize":50,"color":"#4b7030","align":"left","baseline":"middle"},
   "encoding":{"x":{"field":"x","type":"quantitative","axis":null},"y":{"field":"y","type":"quantitative","axis":null},"text":{"field":"t"}}}
 ]},
{"width":1311,"height":569,"title":{"text":"(c)","dy":27},"data":{"values":[{}]},
 "resolve":{"axis":{"x":"independent","y":"independent"}},
 "layer":[
  {"data":{"name":"c"},"mark":{"type":"line","color":"#30358c","strokeWidth":6.5,"strokeJoin":"round"},
   "encoding":{"x":{"field":"x","type":"quantitative","scale":{"domain":[0,1000],"nice":false,"zero":false},"axis":{"values":[0,200,400,600,800,1000],"labelExpr":"datum.value==1000?'1 000':datum.label","title":null}},
    "y":{"field":"y","type":"quantitative","scale":{"type":"log","domain":[0.0033,100],"nice":false},"axis":{"values":[0.01,1,100],"labelExpr":"datum.value>=99?'10²':datum.value>=9.9?'10¹':datum.value>=0.99?'10⁰':datum.value>=0.099?'10⁻¹':'10⁻²'","title":"SWNMF  T²"}}}},
  {"mark":{"type":"rule","color":"#e8262a","strokeWidth":7,"strokeDash":[28,22]},"encoding":{"y":{"datum":9.3,"axis":null}}},
  {"data":{"name":"c"},"transform":[{"filter":"datum.y>9.3"}],"mark":{"type":"circle","size":400,"color":"#f2231d","opacity":1},
   "encoding":{"x":{"field":"x","type":"quantitative","axis":{"orient":"top","values":[50,100,150,250,300,350,450,500,550,650,700,750,850,900,950],"labels":false,"gridDash":[2,6],"gridColor":"#bdbdbd","title":null}},
    "y":{"field":"y","type":"quantitative","axis":{"orient":"right","values":[0.004,0.005,0.006,0.007,0.008,0.009,0.02,0.03,0.04,0.05,0.06,0.07,0.08,0.09,0.1,0.2,0.3,0.4,0.5,0.6,0.7,0.8,0.9,2,3,4,5,6,7,8,9,10,20,30,40,50,60,70,80,90],"labels":false,"gridDash":[2,6],"gridColor":"#bdbdbd","title":null}}}},
  {"mark":{"type":"point","shape":"M -1 0 A 1 0.0898 0 1 0 1 0 A 1 0.0898 0 1 0 -1 0 Z","size":1354896,"filled":false,"stroke":"#3e6622","strokeWidth":8,"opacity":1},"encoding":{"x":{"datum":500,"axis":null},"y":{"datum":11.0,"axis":null}}},
  {"data":{"values":[{"x":423,"y":28.4,"x2":367,"y2":62.7}]},"mark":{"type":"rule","color":"#3e6622","strokeWidth":10,"strokeCap":"round"},
   "encoding":{"x":{"field":"x","type":"quantitative","axis":null},"y":{"field":"y","type":"quantitative","axis":null},"x2":{"field":"x2"},"y2":{"field":"y2"}}},
  {"mark":{"type":"point","shape":"M -0.36 1 L 0 0 L 0.36 1","size":12100,"filled":false,"stroke":"#3e6622","strokeWidth":12,"strokeCap":"round","strokeJoin":"round","angle":-59,"opacity":1},"encoding":{"x":{"datum":367,"axis":null},"y":{"datum":62.7,"axis":null}}},
  {"data":{"values":[{"x":9,"y":52.6,"t":"持续零星漏检样本"},{"x":195,"y":0.00605,"t":"误报率 = 5.10%"},{"x":795,"y":0.0066,"t":"正常场景"}]},"mark":{"type":"text","font":"Liberation Serif","fontSize":50,"color":"#4b7030","align":"left","baseline":"middle"},
   "encoding":{"x":{"field":"x","type":"quantitative","axis":null},"y":{"field":"y","type":"quantitative","axis":null},"text":{"field":"t"}}}
 ]},
{"width":1311,"height":569,"title":{"text":"(d)","dy":51},"data":{"values":[{}]},
 "resolve":{"axis":{"x":"independent","y":"independent"}},
 "layer":[
  {"data":{"name":"d"},"mark":{"type":"line","color":"#30358c","strokeWidth":6.5,"strokeJoin":"round"},
   "encoding":{"x":{"field":"x","type":"quantitative","scale":{"domain":[0,1000],"nice":false,"zero":false},"axis":{"values":[0,200,400,600,800,1000],"labelExpr":"datum.value==1000?'1 000':datum.label","title":null}},
    "y":{"field":"y","type":"quantitative","scale":{"type":"log","domain":[9.35,193],"nice":false},"axis":{"values":[10,100],"labelExpr":"datum.value>=99?'10²':datum.value>=9.9?'10¹':datum.value>=0.99?'10⁰':datum.value>=0.099?'10⁻¹':'10⁻²'","title":"SSAE-ISFA  T²"}}}},
  {"mark":{"type":"rule","color":"#e8262a","strokeWidth":7,"strokeDash":[28,22]},"encoding":{"y":{"datum":48.6,"axis":null}}},
  {"data":{"name":"d"},"transform":[{"filter":"datum.y>48.6"}],"mark":{"type":"circle","size":400,"color":"#f2231d","opacity":1},
   "encoding":{"x":{"field":"x","type":"quantitative","axis":{"orient":"top","values":[50,100,150,250,300,350,450,500,550,650,700,750,850,900,950],"labels":false,"gridDash":[2,6],"gridColor":"#bdbdbd","title":null}},
    "y":{"field":"y","type":"quantitative","axis":{"orient":"right","values":[20,30,40,50,60,70,80,90],"labels":false,"gridDash":[2,6],"gridColor":"#bdbdbd","title":null}}}},
  {"mark":{"type":"point","shape":"M -0.464 0 A 0.464 1 0 1 0 0.464 0 A 0.464 1 0 1 0 -0.464 0 Z","size":56169,"filled":false,"stroke":"#3e6622","strokeWidth":8,"opacity":1},"encoding":{"x":{"datum":76,"axis":null},"y":{"datum":84.6,"axis":null}}},
  {"mark":{"type":"point","shape":"M -0.878 0 A 0.878 1 0 1 0 0.878 0 A 0.878 1 0 1 0 -0.878 0 Z","size":8100,"filled":false,"stroke":"#3e6622","strokeWidth":8,"opacity":1},"encoding":{"x":{"datum":199,"axis":null},"y":{"datum":62.5,"axis":null}}},
  {"mark":{"type":"point","shape":"M -0.789 0 A 0.789 1 0 1 0 0.789 0 A 0.789 1 0 1 0 -0.789 0 Z","size":46440,"filled":false,"stroke":"#3e6622","strokeWidth":8,"opacity":1},"encoding":{"x":{"datum":457,"axis":null},"y":{"datum":79.8,"axis":null}}},
  {"mark":{"type":"point","shape":"M -0.6 0 A 0.6 1 0 1 0 0.6 0 A 0.6 1 0 1 0 -0.6 0 Z","size":124962,"filled":false,"stroke":"#3e6622","strokeWidth":8,"opacity":1},"encoding":{"x":{"datum":826,"axis":null},"y":{"datum":93.7,"axis":null}}},
  {"data":{"values":[{"x":118,"y":100,"x2":183,"y2":100},{"x":229,"y":60.5,"x2":271,"y2":89},{"x":522,"y":82.4,"x2":587,"y2":93.8},{"x":749,"y":76.4,"x2":694,"y2":96.2}]},"mark":{"type":"rule","color":"#3e6622","strokeWidth":10,"strokeCap":"round"},
   "encoding":{"x":{"field":"x","type":"quantitative","axis":null},"y":{"field":"y","type":"quantitative","axis":null},"x2":{"field":"x2"},"y2":{"field":"y2"}}},
  {"mark":{"type":"point","shape":"M -0.36 1 L 0 0 L 0.36 1","size":12100,"filled":false,"stroke":"#3e6622","strokeWidth":12,"strokeCap":"round","strokeJoin":"round","angle":90,"opacity":1},"encoding":{"x":{"datum":183,"axis":null},"y":{"datum":100,"axis":null}}},
  {"mark":{"type":"point","shape":"M -0.36 1 L 0 0 L 0.36 1","size":12100,"filled":false,"stroke":"#3e6622","strokeWidth":12,"strokeCap":"round","strokeJoin":"round","angle":37,"opacity":1},"encoding":{"x":{"datum":271,"axis":null},"y":{"datum":89,"axis":null}}},
  {"mark":{"type":"point","shape":"M -0.36 1 L 0 0 L 0.36 1","size":12100,"filled":false,"stroke":"#3e6622","strokeWidth":12,"strokeCap":"round","strokeJoin":"round","angle":74,"opacity":1},"encoding":{"x":{"datum":587,"axis":null},"y":{"datum":93.8,"axis":null}}},
  {"mark":{"type":"point","shape":"M -0.36 1 L 0 0 L 0.36 1","size":12100,"filled":false,"stroke":"#3e6622","strokeWidth":12,"strokeCap":"round","strokeJoin":"round","angle":-59,"opacity":1},"encoding":{"x":{"datum":694,"axis":null},"y":{"datum":96.2,"axis":null}}},
  {"data":{"values":[{"x":201,"y":102.6,"t":"漏检样本"},{"x":564,"y":131,"t":"大量漏检"},{"x":601,"y":97.5,"t":"样本"},{"x":97,"y":10.8,"t":"误报率 = 4.70%"},{"x":814,"y":10.9,"t":"正常场景"}]},"mark":{"type":"text","font":"Liberation Serif","fontSize":50,"color":"#4b7030","align":"left","baseline":"middle"},
   "encoding":{"x":{"field":"x","type":"quantitative","axis":null},"y":{"field":"y","type":"quantitative","axis":null},"text":{"field":"t"}}}
 ]},
{"width":1311,"height":569,"title":{"text":"(e)","dy":39},"data":{"values":[{}]},
 "resolve":{"axis":{"x":"independent","y":"independent"}},
 "layer":[
  {"data":{"name":"e"},"mark":{"type":"line","color":"#30358c","strokeWidth":6.5,"strokeJoin":"round"},
   "encoding":{"x":{"field":"x","type":"quantitative","scale":{"domain":[0,1000],"nice":false,"zero":false},"axis":{"values":[0,200,400,600,800,1000],"labelExpr":"datum.value==1000?'1 000':datum.label","title":"样本"}},
    "y":{"field":"y","type":"quantitative","scale":{"type":"log","domain":[0.1,40],"nice":false},"axis":{"values":[0.1,1,10],"labelExpr":"datum.value>=99?'10²':datum.value>=9.9?'10¹':datum.value>=0.99?'10⁰':datum.value>=0.099?'10⁻¹':'10⁻²'","title":"AD-TFM-AT  T²"}}}},
  {"mark":{"type":"rule","color":"#e8262a","strokeWidth":7,"strokeDash":[28,22]},"encoding":{"y":{"datum":13.3,"axis":null}}},
  {"data":{"name":"e"},"transform":[{"filter":"datum.y>13.3"}],"mark":{"type":"circle","size":400,"color":"#f2231d","opacity":1},
   "encoding":{"x":{"field":"x","type":"quantitative","axis":{"orient":"top","values":[50,100,150,250,300,350,450,500,550,650,700,750,850,900,950],"labels":false,"gridDash":[2,6],"gridColor":"#bdbdbd","title":null}},
    "y":{"field":"y","type":"quantitative","axis":{"orient":"right","values":[0.2,0.3,0.4,0.5,0.6,0.7,0.8,0.9,2,3,4,5,6,7,8,9,20,30],"labels":false,"gridDash":[2,6],"gridColor":"#bdbdbd","title":null}}}},
  {"mark":{"type":"point","shape":"M -0.99 0 A 0.99 1 0 1 0 0.99 0 A 0.99 1 0 1 0 -0.99 0 Z","size":12882,"filled":false,"stroke":"#3e6622","strokeWidth":8,"opacity":1},"encoding":{"x":{"datum":69,"axis":null},"y":{"datum":18.5,"axis":null}}},
  {"mark":{"type":"point","shape":"M -0.71 0 A 0.71 1 0 1 0 0.71 0 A 0.71 1 0 1 0 -0.71 0 Z","size":12996,"filled":false,"stroke":"#3e6622","strokeWidth":8,"opacity":1},"encoding":{"x":{"datum":431,"axis":null},"y":{"datum":19,"axis":null}}},
  {"mark":{"type":"point","shape":"M -0.746 0 A 0.746 1 0 1 0 0.746 0 A 0.746 1 0 1 0 -0.746 0 Z","size":12996,"filled":false,"stroke":"#3e6622","strokeWidth":8,"opacity":1},"encoding":{"x":{"datum":783.5,"axis":null},"y":{"datum":19,"axis":null}}},
  {"data":{"values":[{"x":112,"y":18.5,"x2":177,"y2":23.4},{"x":462,"y":15,"x2":521,"y2":19.5},{"x":753,"y":14.8,"x2":688,"y2":20.5}]},"mark":{"type":"rule","color":"#3e6622","strokeWidth":10,"strokeCap":"round"},
   "encoding":{"x":{"field":"x","type":"quantitative","axis":null},"y":{"field":"y","type":"quantitative","axis":null},"x2":{"field":"x2"},"y2":{"field":"y2"}}},
  {"mark":{"type":"point","shape":"M -0.36 1 L 0 0 L 0.36 1","size":12100,"filled":false,"stroke":"#3e6622","strokeWidth":12,"strokeCap":"round","strokeJoin":"round","angle":75,"opacity":1},"encoding":{"x":{"datum":177,"axis":null},"y":{"datum":23.4,"axis":null}}},
  {"mark":{"type":"point","shape":"M -0.36 1 L 0 0 L 0.36 1","size":12100,"filled":false,"stroke":"#3e6622","strokeWidth":12,"strokeCap":"round","strokeJoin":"round","angle":72,"opacity":1},"encoding":{"x":{"datum":521,"axis":null},"y":{"datum":19.5,"axis":null}}},
  {"mark":{"type":"point","shape":"M -0.36 1 L 0 0 L 0.36 1","size":12100,"filled":false,"stroke":"#3e6622","strokeWidth":12,"strokeCap":"round","strokeJoin":"round","angle":-70,"opacity":1},"encoding":{"x":{"datum":688,"axis":null},"y":{"datum":20.5,"axis":null}}},
  {"data":{"values":[{"x":181,"y":23.4,"t":"漏检样本"},{"x":479,"y":27.4,"t":"零星漏检样本"},{"x":33,"y":0.173,"t":"误报率 = 4.40%"},{"x":795,"y":0.173,"t":"正常场景"}]},"mark":{"type":"text","font":"Liberation Serif","fontSize":50,"color":"#4b7030","align":"left","baseline":"middle"},
   "encoding":{"x":{"field":"x","type":"quantitative","axis":null},"y":{"field":"y","type":"quantitative","axis":null},"text":{"field":"t"}}}
 ]},
{"width":1311,"height":569,"title":{"text":"(f)","dy":37},"data":{"values":[{}]},
 "resolve":{"axis":{"x":"independent","y":"independent"}},
 "layer":[
  {"data":{"name":"f"},"mark":{"type":"line","color":"#30358c","strokeWidth":6.5,"strokeJoin":"round"},
   "encoding":{"x":{"field":"x","type":"quantitative","scale":{"domain":[0,1000],"nice":false,"zero":false},"axis":{"values":[0,200,400,600,800,1000],"labelExpr":"datum.value==1000?'1 000':datum.label","title":"样本"}},
    "y":{"field":"y","type":"quantitative","scale":{"type":"log","domain":[2.84,28.3],"nice":false},"axis":{"values":[10],"labelExpr":"datum.value>=99?'10²':datum.value>=9.9?'10¹':datum.value>=0.99?'10⁰':datum.value>=0.099?'10⁻¹':'10⁻²'","title":"FreqSSA  T²"}}}},
  {"mark":{"type":"rule","color":"#e8262a","strokeWidth":7,"strokeDash":[28,22]},"encoding":{"y":{"datum":25.7,"axis":null}}},
  {"data":{"name":"f"},"transform":[{"filter":"datum.y>25.7"}],"mark":{"type":"circle","size":400,"color":"#f2231d","opacity":1},
   "encoding":{"x":{"field":"x","type":"quantitative","axis":{"orient":"top","values":[50,100,150,250,300,350,450,500,550,650,700,750,850,900,950],"labels":false,"gridDash":[2,6],"gridColor":"#bdbdbd","title":null}},
    "y":{"field":"y","type":"quantitative","axis":{"orient":"right","values":[3,4,5,6,7,8,9,20],"labels":false,"gridDash":[2,6],"gridColor":"#bdbdbd","title":null}}}},
  {"data":{"values":[{"x":34,"y":20.2,"t":"误报率 = 0%"},{"x":810,"y":3.34,"t":"正常场景"}]},"mark":{"type":"text","font":"Liberation Serif","fontSize":50,"color":"#4b7030","align":"left","baseline":"middle"},
   "encoding":{"x":{"field":"x","type":"quantitative","axis":null},"y":{"field":"y","type":"quantitative","axis":null},"text":{"field":"t"}}}
 ]}
]
}
